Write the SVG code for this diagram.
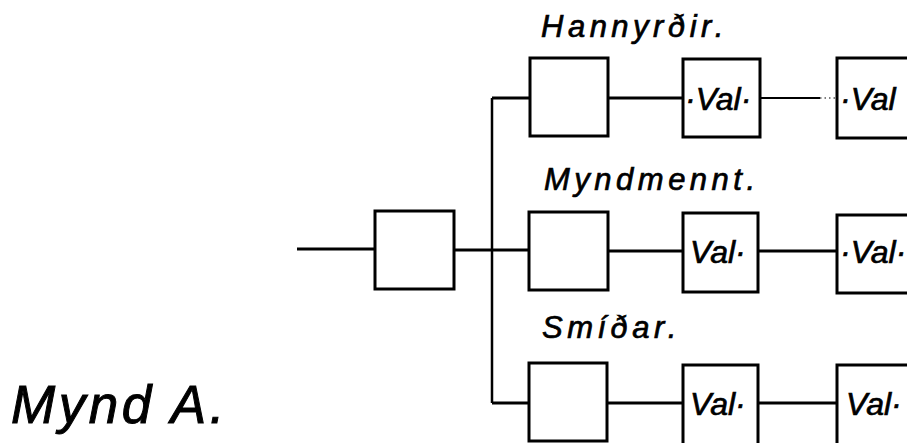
<svg xmlns="http://www.w3.org/2000/svg" width="907" height="443" viewBox="0 0 907 443">
<style>
.box{fill:#fff;stroke:#000;stroke-width:3}
.ln{stroke:#000;stroke-width:3;fill:none}
.dot{stroke:#000;stroke-width:1.2;stroke-dasharray:1.5 3;fill:none}
.lbl{font-family:"Liberation Sans",Arial,sans-serif;font-style:italic;font-size:31px;letter-spacing:4.5px;fill:#000;stroke:#000;stroke-width:0.7}
.val{font-family:"Liberation Sans",Arial,sans-serif;font-style:italic;font-size:32px;fill:#000;stroke:#000;stroke-width:0.7}
.title{font-family:"Liberation Sans",Arial,sans-serif;font-style:italic;font-size:53px;letter-spacing:3.5px;fill:#000;stroke:#000;stroke-width:1}
</style>
<rect width="907" height="443" fill="#fff"/>
<g id="connectors">
<line class="ln" x1="297" y1="249" x2="375" y2="249"/>
<line class="ln" x1="454" y1="250" x2="529" y2="250"/>
<line class="ln" x1="492" y1="98" x2="492" y2="403" style="stroke-width:2.5"/>
<line class="ln" x1="492" y1="98" x2="530" y2="98"/>
<line class="ln" x1="492" y1="403" x2="529" y2="403"/>
<line class="ln" x1="608" y1="98" x2="683" y2="98"/>
<line class="ln" x1="760" y1="98" x2="820" y2="98" style="stroke-width:2"/>
<line class="dot" x1="820" y1="98" x2="837" y2="98"/>
<line class="ln" x1="608" y1="251" x2="683" y2="251"/>
<line class="ln" x1="758" y1="251" x2="837" y2="251"/>
<line class="ln" x1="607" y1="403" x2="683" y2="403"/>
<line class="ln" x1="758" y1="403" x2="837" y2="403"/>
</g>
<g id="start"><rect class="box" x="375" y="211" width="79" height="78"/></g>
<g id="r1b1"><rect class="box" x="530" y="58" width="78" height="78"/></g>
<g id="r1b2"><rect class="box" x="683" y="59" width="77" height="78"/><text class="val" x="685" y="110">·Val·</text></g>
<g id="r1b3"><rect class="box" x="837" y="58" width="100" height="80"/><text class="val" x="840" y="110">·Val</text></g>
<g id="r2b1"><rect class="box" x="529" y="212" width="79" height="78"/></g>
<g id="r2b2"><rect class="box" x="683" y="213" width="75" height="79"/><text class="val" x="690" y="263">Val·</text></g>
<g id="r2b3"><rect class="box" x="837" y="215" width="100" height="78"/><text class="val" x="840" y="263">·Val·</text></g>
<g id="r3b1"><rect class="box" x="529" y="363" width="78" height="78"/></g>
<g id="r3b2"><rect class="box" x="683" y="365" width="75" height="90"/><text class="val" x="690" y="415">Val·</text></g>
<g id="r3b3"><rect class="box" x="837" y="365" width="100" height="90"/><text class="val" x="846" y="415">Val·</text></g>
<g id="labels">
<text class="lbl" x="541" y="37">Hannyrðir.</text>
<text class="lbl" x="544" y="190">Myndmennt.</text>
<text class="lbl" x="542" y="338">Smíðar.</text>
<text class="title" x="11" y="423">Mynd A.</text>
</g>
</svg>
